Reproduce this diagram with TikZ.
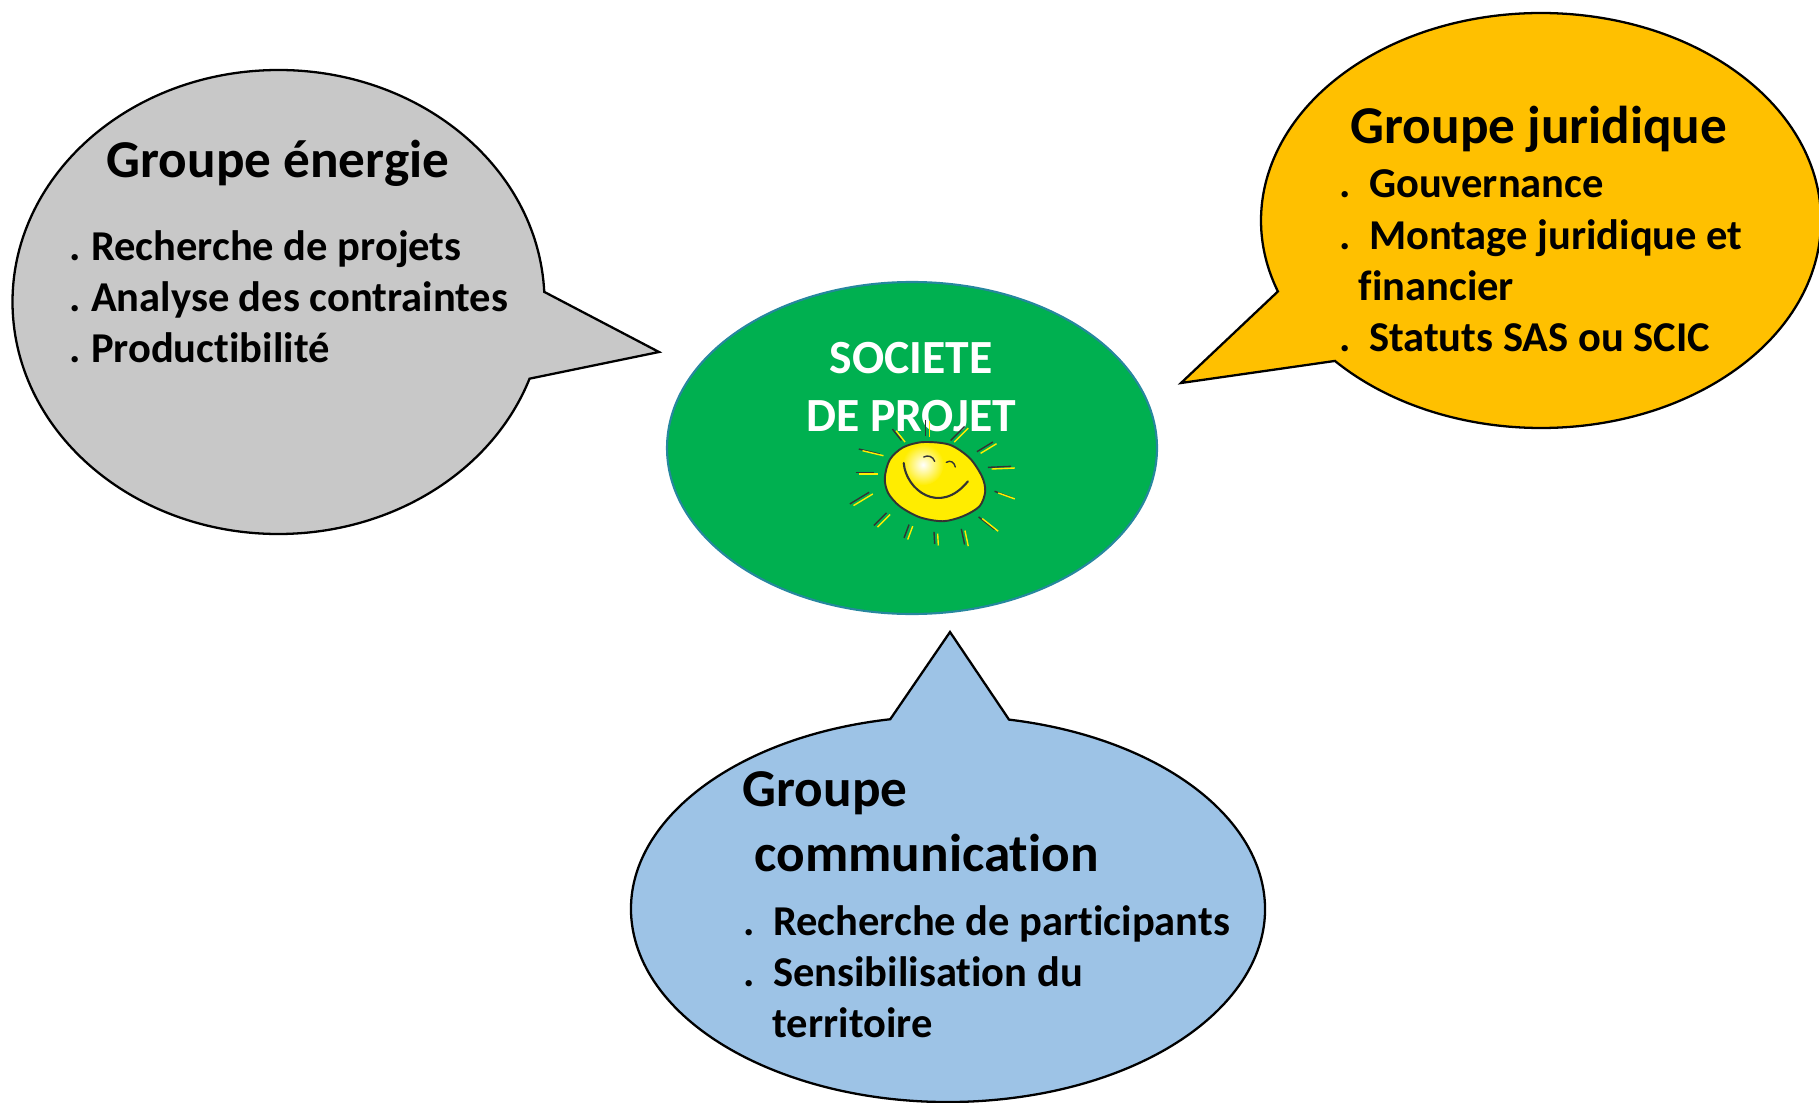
\documentclass[tikz,border=0pt]{standalone}
\usepackage{fontspec}
\setmainfont[Ligatures=NoCommon]{Carlito}
\usetikzlibrary{shapes.geometric}
\definecolor{gris}{HTML}{C8C8C8}
\definecolor{orange2}{HTML}{FFC000}
\definecolor{bleuclair}{HTML}{9DC3E6}
\definecolor{vert}{HTML}{00B050}
\definecolor{jaune}{HTML}{FFED00}
\tikzset{
  bulle/.style={draw=black,line width=0.65pt},
  titre/.style={anchor=base west,inner sep=0pt,font=\fontsize{15.15}{17}\selectfont\bfseries},
  ligne/.style={anchor=base west,inner sep=0pt,font=\fontsize{12.1}{14}\selectfont\bfseries},
  blanc/.style={anchor=base,inner sep=0pt,text=white,font=\fontsize{13.55}{15}\selectfont\bfseries}
}
\newcommand{\puce}[1]{.\hspace{#1}}
\begin{document}
\begin{tikzpicture}
\useasboundingbox (0,0) rectangle (18.19,11.02);

% les trois bulles
\coordinate (pointeE) at (6.59,7.50);
\coordinate (pointeJ) at (11.81,7.19);
\coordinate (pointeC) at (9.50,4.70);
\draw [bulle,fill=gris] (2.785,8.00) ++(2.5:2.66 and 2.32) arc [start angle=2.5,end angle=340.7,x radius=2.66,y radius=2.32] -- (pointeE) -- cycle;
\draw [bulle,fill=orange2] (15.41,8.815) ++(222.6:2.80 and 2.075) arc [start angle=222.6,end angle=560,x radius=2.80,y radius=2.075] -- (pointeJ) -- cycle;
\draw [bulle,fill=bleuclair] (9.48,1.93) ++(100.5:3.17 and 1.93) arc [start angle=100.5,end angle=438.9,x radius=3.17,y radius=1.93] -- (pointeC) -- cycle;

\node (centre) [ellipse,draw=blue!35!vert!85!white,line width=0.6pt,fill=vert,minimum width=4.90cm,minimum height=3.32cm,inner sep=0pt] at (9.12,6.54) {};

% les textes
\node (tE) [titre] at (1.06,9.24) {Groupe énergie};
\node (tJ) [titre] at (13.50,9.58) {Groupe juridique};
\node (tC1) [titre] at (7.42,2.96) {Groupe};
\node (tC2) [titre] at (7.54,2.31) {communication};
\node (societe) [blanc] at (9.11,7.29) {SOCIETE};
\node (projet) [blanc] at (9.11,6.71) {DE PROJET};

\foreach \n / \x / \y / \t in {e1/0.69/8.41/\puce{0.10cm}Recherche de projets,
    e2/0.69/7.90/\puce{0.10cm}Analyse des contraintes,
    e3/0.69/7.39/\puce{0.10cm}Productibilité,
    j1/13.39/9.04/\puce{0.18cm}Gouvernance,
    j2/13.39/8.52/\puce{0.18cm}Montage juridique et,
    j3/13.58/8.01/financier,
    j4/13.39/7.50/\puce{0.18cm}Statuts SAS ou SCIC,
    c1/7.43/1.67/\puce{0.18cm}Recherche de participants,
    c2/7.43/1.16/\puce{0.18cm}Sensibilisation du,
    c3/7.72/0.65/territoire}
    {\node (\n) [ligne] at (\x,\y) {\t};}

% le soleil
\begin{scope}[shift={(7.8,7.82)},x=0.00333cm,y=-0.00333cm]
\foreach \xa / \ya / \xb / \yb in {338/328/365/362,438/300/438/348,555/320/513/362,640/367/592/396,625/443/695/440,645/515/695/533,597/592/645/630,545/628/555/675,463/637/465/673,388/615/373/655,320/580/282/618,268/518/210/553,227/458/283/458,237/388/300/403}
    {\draw [line width=0.4pt,color=black!80] (\xa,\ya) -- (\xb,\yb);
     \draw [line width=0.4pt,color=jaune] ([shift={(11,5)}]\xa,\ya) -- ([shift={(11,5)}]\xb,\yb);}
\fill [jaune] plot [smooth cycle] coordinates {(430,367) (510,375) (570,415) (607,470) (617,515) (600,560) (550,590) (490,605) (420,593) (360,560) (325,520) (315,475) (330,420) (370,383)};
\shade [inner color=white,outer color=jaune] (430,435) circle (62);
\draw [line width=0.55pt,color=black!80] plot [smooth cycle] coordinates {(430,367) (510,375) (570,415) (607,470) (617,515) (600,560) (550,590) (490,605) (420,593) (360,560) (325,520) (315,475) (330,420) (370,383)};
\draw [line width=0.6pt,color=black!80,line cap=round] (372,430) .. controls (378,510) and (480,590) .. (565,485);
\draw [line width=0.4pt,color=black!80,line cap=round] (432,412) .. controls (445,405) and (460,410) .. (465,425);
\draw [line width=0.4pt,color=black!80,line cap=round] (500,428) .. controls (512,420) and (525,428) .. (527,442);
\end{scope}
\end{tikzpicture}
\end{document}
